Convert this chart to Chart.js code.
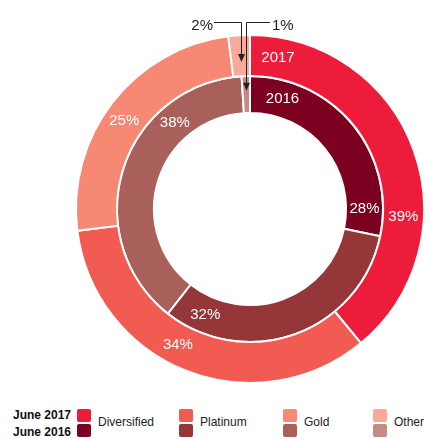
<!DOCTYPE html>
<html>
<head>
<meta charset="utf-8">
<script src="https://cdn.jsdelivr.net/npm/chart.js@4.4.1/dist/chart.umd.min.js"></script>
<style>
    body { margin: 0; background: #fff; font-family: "Liberation Sans", Arial, Helvetica, sans-serif; }
    #wrap { position: relative; width: 425px; height: 439px; overflow: hidden; }
    #chart { position: absolute; left: 0; top: 0; }
    .yr { position: absolute; left: 13px; font-size: 12px; font-weight: bold; color: #111; line-height: 14px; }
    .sw { position: absolute; width: 14px; height: 13px; border-radius: 2px; }
    .lab { position: absolute; top: 414px; font-size: 12px; color: #222; line-height: 16px; }
</style>
</head>
<body>
<div id="wrap">
    <canvas id="chart" width="425" height="395"></canvas>
    <div id="legend"></div>
</div>
<script>
(function () {

    var categories = ["Diversified", "Platinum", "Gold", "Other"];
    var years = ["2017", "2016"];
    var legendYears = ["June 2017", "June 2016"];

    var values2017 = [39, 34, 25, 2];
    var values2016 = [28, 32, 38, 1];

    var colors2017 = ["#EE1C3B", "#F25B52", "#F68874", "#F8A997"];
    var colors2016 = ["#7C0120", "#953638", "#A9605A", "#C48A83"];

    // where each label sits on its ring, degrees clockwise from 12 o'clock
    var labelAngles2017 = [93, 208, 305, null];
    var labelAngles2016 = [90, 203, 319, null];
    var yearAngles = [10.5, 16.5];

    var legendX = [77, 179, 283, 373];

    function polar(el, deg, r) {
        var a = deg * Math.PI / 180;
        return { x: el.x + r * Math.sin(a), y: el.y - r * Math.cos(a) };
    }

    var labelPlugin = {
        id: "ringLabels",
        afterDatasetsDraw: function (chart) {
            var ctx = chart.ctx;
            var angleSets = [labelAngles2017, labelAngles2016];
            var valueSets = [values2017, values2016];
            ctx.save();
            ctx.fillStyle = "#fff";
            ctx.textAlign = "center";
            ctx.textBaseline = "middle";
            ctx.font = "15px 'Liberation Sans', Arial, sans-serif";
            for (var d = 0; d < 2; d++) {
                var meta = chart.getDatasetMeta(d);
                for (var i = 0; i < meta.data.length; i++) {
                    if (angleSets[d][i] === null) continue;
                    var el = meta.data[i];
                    var r = (el.innerRadius + el.outerRadius) / 2;
                    var p = polar(el, angleSets[d][i], r);
                    ctx.fillText(valueSets[d][i] + "%", p.x, p.y);
                }
                var first = meta.data[0];
                var py = polar(first, yearAngles[d], (first.innerRadius + first.outerRadius) / 2);
                ctx.fillText(years[d], py.x, py.y);
            }

            // callouts for the tiny "Other" slices
            ctx.strokeStyle = "#222";
            ctx.fillStyle = "#222";
            ctx.lineWidth = 1;
            var lineY = 22.5;
            var tipFrac = [0.35, 0.6];
            for (var k = 0; k < 2; k++) {
                var m = chart.getDatasetMeta(k);
                var o = m.data[3];
                var mid = (o.startAngle + o.endAngle) / 2;
                var rr = o.innerRadius + (o.outerRadius - o.innerRadius) * tipFrac[k];
                var tx = Math.round(o.x + rr * Math.cos(mid)) + 0.5;
                var ty = o.y + rr * Math.sin(mid);
                ctx.beginPath();
                if (k === 0) {
                    ctx.moveTo(214, lineY);
                } else {
                    ctx.moveTo(270, lineY);
                }
                ctx.lineTo(tx, lineY);
                ctx.lineTo(tx, ty - 7);
                ctx.stroke();
                ctx.beginPath();
                ctx.moveTo(tx - 3.5, ty - 8);
                ctx.lineTo(tx + 3.5, ty - 8);
                ctx.lineTo(tx, ty);
                ctx.closePath();
                ctx.fill();
            }
            ctx.font = "15px 'Liberation Sans', Arial, sans-serif";
            ctx.textBaseline = "alphabetic";
            ctx.textAlign = "right";
            ctx.fillText(values2017[3] + "%", 213, 30);
            ctx.textAlign = "left";
            ctx.fillText(values2016[3] + "%", 272, 30);
            ctx.restore();
        }
    };

    function buildLegend() {
        var box = document.getElementById("legend");
        var html = "";
        html += '<div class="yr" style="top:408px">' + legendYears[0] + '</div>';
        html += '<div class="yr" style="top:425px">' + legendYears[1] + '</div>';
        for (var i = 0; i < categories.length; i++) {
            html += '<div class="sw" style="left:' + legendX[i] + 'px;top:409px;background:' + colors2017[i] + '"></div>';
            html += '<div class="sw" style="left:' + legendX[i] + 'px;top:424px;background:' + colors2016[i] + '"></div>';
            html += '<div class="lab" style="left:' + (legendX[i] + 21) + 'px">' + categories[i] + '</div>';
        }
        box.innerHTML = html;
    }

    var ctx = document.getElementById("chart").getContext("2d");
    new Chart(ctx, {
        type: "doughnut",
        data: {
            labels: categories,
            datasets: [
                {
                    label: "June 2017",
                    data: values2017,
                    backgroundColor: colors2017,
                    borderColor: "#fff",
                    borderWidth: 2,
                    hoverOffset: 0,
                    weight: 41
                },
                {
                    label: "June 2016",
                    data: values2016,
                    backgroundColor: colors2016,
                    borderColor: "#fff",
                    borderWidth: 2,
                    hoverOffset: 0,
                    weight: 37
                }
            ]
        },
        options: {
            responsive: false,
            animation: false,
            cutout: "55.2%",
            layout: { padding: { left: 75, right: 0, top: 34, bottom: 11 } },
            plugins: {
                legend: { display: false },
                tooltip: { enabled: false }
            }
        },
        plugins: [labelPlugin]
    });

    buildLegend();

})();
</script>
</body>
</html>
